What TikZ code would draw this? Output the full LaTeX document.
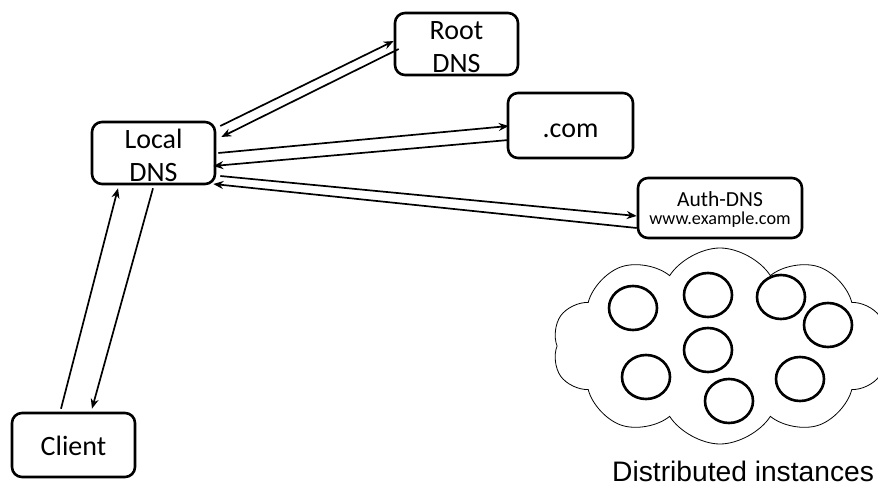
\documentclass[tikz,border=0pt]{standalone}
\usepackage{fontspec}
\setmainfont{Carlito}
\newfontfamily\arialfont{Liberation Sans}
\usetikzlibrary{calc,arrows.meta,shapes.symbols,shapes.geometric}
\begin{document}
\begin{tikzpicture}[x=1pt,y=-1pt,
  server/.style={draw,line width=2.6pt,rounded corners=10pt,inner sep=0pt},
  txt/.style={align=center,inner sep=0pt,font=\fontsize{28}{32}\selectfont},
  link/.style={line width=1.7pt,-{Stealth[length=10pt,width=8pt]}},
  inst/.style={draw,line width=2.6pt,ellipse,minimum width=48pt,minimum height=44pt,inner sep=0pt}
]
\useasboundingbox (0,0) rectangle (878,486);
\fill[white] (0,0) rectangle (878,486);

\node[server,minimum width=123pt,minimum height=62pt,
  label={[txt,yshift=-3pt]center:{Root\\[1pt]DNS}}] (root) at (456.5,44) {};
\node[server,minimum width=123pt,minimum height=62pt,
  label={[txt,yshift=-2pt]center:{Local\\[1pt]DNS}}] (local) at (153.5,153) {};
\node[server,minimum width=125pt,minimum height=65pt,
  label={[txt,yshift=-5pt]center:{.com}}] (com) at (570.5,125.5) {};
\node[server,minimum width=164pt,minimum height=60pt,
  label={[align=center,inner sep=0pt,yshift=-2pt,font=\fontsize{21.5}{19}\selectfont]center:{Auth-DNS\\[-1pt]{\fontsize{18.2}{19}\selectfont www.example.com}}}] (auth) at (720,208) {};
\node[server,minimum width=123pt,minimum height=64pt,
  label={[txt,yshift=-1pt]center:{Client}}] (client) at (73.5,445) {};

% Local <-> Root
\draw[link] ($(local.east)+(4,-27)$) -- ($(root.west)+(0,-3)$);
\draw[link] ($(root.west)+(5,5)$) -- ($(local.east)+(5,-16)$);
% Local <-> .com
\draw[link] ($(local.east)+(2,0)$) -- ($(com.west)+(2,0.5)$);
\draw[link] ($(com.west)+(2,14.5)$) -- ($(local.east)+(-3,13)$);
% Local <-> Auth
\draw[link] ($(local.east)+(4,23)$) -- ($(auth.west)+(0,8)$);
\draw[link] ($(auth.west)+(0,20)$) -- ($(local.east)+(-3,31)$);
% Client <-> Local
\draw[link] ($(client.north)+(-12.5,-3)$) -- ($(local.south)+(-35.5,3)$);
\draw[link] ($(local.south)+(-0.5,3)$) -- ($(client.north)+(18.5,-3)$);

% cloud
\node[cloud,draw,line width=0.8pt,cloud puffs=10,cloud puff arc=115,aspect=1.7,
  minimum width=335pt,minimum height=196pt] (cloud) at (720,346) {};
\node[inst] (i1) at (633,308) {};
\node[inst] (i2) at (708,295) {};
\node[inst] (i3) at (781,297) {};
\node[inst] (i4) at (828,325) {};
\node[inst] (i5) at (708,350) {};
\node[inst] (i6) at (646,377) {};
\node[inst] (i7) at (729,401) {};
\node[inst] (i8) at (800,379) {};

\node[anchor=base west,inner sep=0pt,font=\arialfont\fontsize{28.2}{32}\selectfont] (dist) at (612,481) {Distributed instances};
\end{tikzpicture}
\end{document}
